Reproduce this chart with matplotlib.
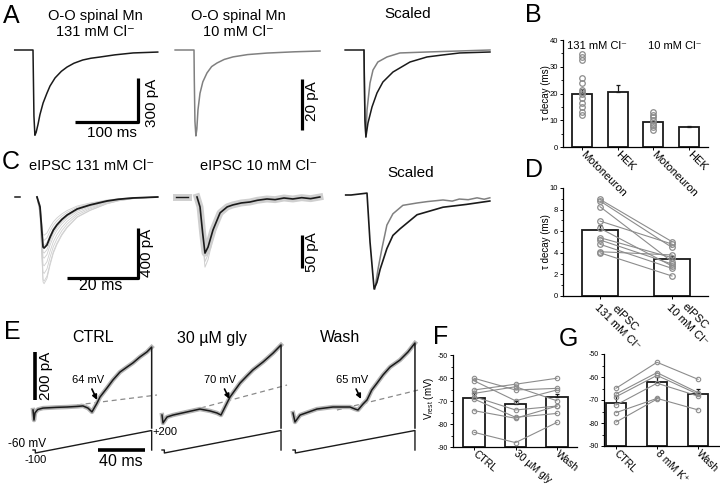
import numpy as np
import matplotlib.pyplot as plt

plt.rcParams['font.family'] = ['Liberation Sans', 'DejaVu Sans']
plt.rcParams['mathtext.fontset'] = 'custom'
plt.rcParams['mathtext.rm'] = 'Liberation Sans'
plt.rcParams['axes.unicode_minus'] = False

# ---------------- data ----------------
# A: averaged currents (ms, pA)
a1_t = [-29, 0, 0.5, 1.5, 3, 5, 8, 11, 16, 22, 27, 35, 45, 54, 65, 79, 92, 106, 130, 159, 198]
a1_i = [0, 0, -150, -450, -580, -560, -505, -440, -361, -295, -245, -190, -145, -116, -90, -68, -56, -48, -33, -20, -14]
a2_t = [-30, 0, 0.5, 1.5, 3, 4.5, 6.3, 9.5, 14, 20.6, 28, 36.5, 48, 62, 85, 116, 160, 200]
a2_i = [0, 0, -12, -28, -33.7, -31, -23.5, -17, -12.5, -9, -6.5, -5.1, -3.7, -2.7, -1.8, -1.2, -0.7, -0.4]
# A scaled (normalised)
a3_t131 = [-30, 0, 0.5, 1.5, 3, 6.3, 12.7, 20.6, 30, 46, 73, 100, 125, 152, 200]
a3_131 = [0, 0, -0.3, -0.8, -1.0, -0.84, -0.655, -0.494, -0.368, -0.253, -0.138, -0.08, -0.057, -0.034, -0.023]
a3_t10 = [0, 0.5, 1.5, 3, 4.8, 9.5, 14.3, 22, 36.5, 57, 100, 152, 200]
a3_10 = [0, -0.3, -0.8, -1.0, -0.69, -0.38, -0.23, -0.138, -0.08, -0.034, -0.023, -0.011, 0.0]

# C: eIPSCs (ms, pA)
c1_t = [0, 0.85, 1.3, 1.7, 2.0, 2.8, 3.7, 4.6, 5.6, 7, 8.5, 11.3, 14.9, 19.7, 23, 27, 34]
c1_i = [0, -80, -250, -400, -408, -384, -320, -265, -224, -180, -144, -96, -64, -32, -18, -8, 0]
c1_sweeps = [0.75, 0.85, 0.95, 1.1, 1.2, 1.35, 1.5, 1.65, 1.7]
c2_t = [0, 0.85, 1.6, 2.25, 3.1, 4.5, 6.5, 8.5, 10.1, 12.5, 14.9, 17, 19.7, 22, 24.5, 27, 29.5, 32, 34.6]
c2_i = [0, -15, -55, -85, -76, -50, -24, -15, -12, -9, -7.6, -5, -3, -4, -1.5, -3, -1, -2.5, 0]
c2_sweeps = [0.85, 0.95, 1.05, 1.15, 1.25]
c3_t131 = [-6, -4.5, 0, 0.85, 2, 2.8, 3.7, 5.6, 7.3, 9.3, 14.1, 21.4, 28, 34.6]
c3_131 = [0, 0, 0.02, -0.5, -1, -0.93, -0.79, -0.57, -0.43, -0.36, -0.21, -0.13, -0.1, -0.064]
c3_t10 = [2.2, 3.1, 4.2, 5.6, 7.3, 10.1, 14.1, 17, 21.4, 24, 26, 28.5, 31, 33, 34.6]
c3_10 = [-1, -0.79, -0.57, -0.32, -0.2, -0.11, -0.085, -0.07, -0.053, -0.065, -0.043, -0.05, -0.03, -0.045, -0.03]

# E: ramp currents (ms, pA) and command voltage (mV)
e_t = [
    [0, 0.85, 1.7, 4, 8.5, 20, 29, 38, 42.5, 46.8, 50.2, 54.5, 57, 63, 68, 74, 80, 85, 91, 97, 101, 101],
    [0, 0.85, 4.3, 9.4, 21.3, 32.3, 40.9, 46.8, 50.2, 55.3, 57.9, 66.4, 72.3, 77.4, 86, 94.5, 101.3, 101.3],
    [0, 1.7, 6, 20.4, 34, 48.5, 52.8, 55.3, 59.6, 63, 67, 71.5, 76.6, 82.6, 91, 97.9, 103.8, 103.8],
]
e_i = [
    [0, -42, -12, 2, 8, 11, 12.5, 15, 17, 8, -8, 29, 54, 92, 125, 158, 179, 196, 221, 242, 262, -75],
    [-21, -54, -29, -21, -8, 4, -4, -12.5, -21, 29, 54, 112, 142, 167, 200, 237, 271, -75],
    [-12.5, -50, -21, 4, 12.5, 12.5, 4, 0, 25, 42, 83, 112, 146, 179, 208, 242, 279, -75],
]
e_ramp_end = [101, 101.3, 103.8]
e_leak_t = [[37.4, 105.5], [4.3, 106.4], [37.4, 106.4]]
e_leak_i = [[21, 62.5], [-29, 104], [0, 83]]
e_rev = ['64 mV', '70 mV', '65 mV']
e_rev_head = [(54.5, 42), (57.4, 46), (57.9, 46)]
e_titles = ['CTRL', '30 µM gly', 'Wash']

# B: decay time constants
b_labels = ['Motoneuron', 'HEK', 'Motoneuron', 'HEK']
b_mean = [20, 20.7, 9.2, 7.5]
b_sem = [1.5, 2.3, 0.7, 0.3]
b_moto131 = [34.7, 33.8, 32.5, 25.9, 23.8, 21.3, 20.7, 19.7, 18.2, 16.3, 15.1, 13.2, 12.0]
b_moto10 = [13.2, 12.0, 11.1, 10.1, 9.1, 8.2, 7.4, 6.4]

# D: eIPSC decay, paired
d_labels = ['eIPSC\n131 mM Cl⁻', 'eIPSC\n10 mM Cl⁻']
d_mean = [6.1, 3.45]
d_sem = [0.45, 0.3]
d_131 = [8.95, 8.8, 8.27, 6.94, 6.27, 5.4, 5.19, 4.79, 4.1, 4.0]
d_10 = [5.03, 4.5, 3.18, 4.81, 2.78, 3.55, 2.96, 2.56, 3.8, 1.85]

# F: Vrest with glycine
f_labels = ['CTRL', '30 µM gly', 'Wash']
f_mean = [-68.6, -71.3, -68.3]
f_sem = [2.0, 1.5, 1.5]
f_cells = [
    [-60.1, -65.2, -64.5],
    [-61.2, -69.9, -65.2],
    [-65.2, -62.7, -60.1],
    [-66.7, -63.8, -69.9],
    [-68.1, -73.9, -72.2],
    [-69.1, -77.1, -75.4],
    [-74.2, -77.5, -72.2],
    [-83.6, -88.1, -79.3],
]

# G: Vrest with 8 mM K+
g_labels = ['CTRL', '8 mM K⁺', 'Wash']
g_mean = [-71.4, -62.3, -67.2]
g_sem = [3.0, 2.2, 2.0]
g_cells = [
    [-64.9, -53.6, -61.0],
    [-67.4, -58.1, -66.8],
    [-68.6, -59.3, -67.5],
    [-72.2, -62.7, -68.3],
    [-75.5, -69.3, -74.3],
    [-79.6, -69.6, np.nan],
]

# ---------------- figure helpers ----------------
W, H = 720, 488
fig = plt.figure(figsize=(7.2, 4.88), dpi=100)
BLACK = '#1a1a1a'
GREY = '#808080'
LIGHT = '#cfcfcf'
PT = '#8c8c8c'


def fx(x):
    return x / W


def fy(y):
    return 1 - y / H


def txt(x, y, s, size=10, rot=0, **kw):
    fig.text(fx(x), fy(y), s, fontsize=size, rotation=rot,
             ha=kw.pop('ha', 'center'), va=kw.pop('va', 'center'), **kw)


def trace_ax(box, x0, sx, y0, sy):
    l, t, r, b = box
    ax = fig.add_axes([fx(l), fy(b), (r - l) / W, (b - t) / H])
    ax.set_xlim((l - x0) / sx, (r - x0) / sx)
    ax.set_ylim((y0 - b) / sy, (y0 - t) / sy)
    ax.axis('off')
    return ax


def bar_ax(box, c0, sp, ylim, ysize=5.5):
    l, t, r, b = box
    ax = fig.add_axes([fx(l), fy(b), (r - l) / W, (b - t) / H])
    ax.set_xlim((l - c0) / sp, (r - c0) / sp)
    ax.set_ylim(*ylim)
    for s in ['top', 'right']:
        ax.spines[s].set_visible(False)
    for s in ['left', 'bottom']:
        ax.spines[s].set_linewidth(0.9)
    ax.tick_params(axis='y', which='major', direction='out', length=2.5, width=0.7,
                   labelsize=ysize, pad=1)
    ax.tick_params(axis='y', which='minor', direction='out', length=1.5, width=0.6)
    ax.tick_params(axis='x', direction='out', length=2, width=0.7, labelsize=8, pad=2)
    ax.patch.set_alpha(0)
    return ax


def bars(ax, means, sems, bottom, width):
    x = np.arange(len(means))
    ax.bar(x, np.array(means) - bottom, bottom=bottom, width=width,
           color='white', edgecolor=BLACK, linewidth=1.3, zorder=2)
    ax.errorbar(x, means, yerr=[np.zeros(len(sems)), sems], fmt='none',
                ecolor=BLACK, elinewidth=0.9, capsize=1.5, capthick=0.9, zorder=3)


def xlabels(ax, labels, rot, size=8):
    ax.set_xticks(range(len(labels)))
    ax.set_xticklabels(labels, rotation=rot, ha='left', va='center', fontsize=size,
                       rotation_mode='anchor', multialignment='center')


# ---------------- panel A ----------------
ax = trace_ax((5, 42, 170, 142), 33, 0.63, 50, 0.147)
ax.plot(a1_t, a1_i, color=BLACK, lw=1.1)
ax.plot([67, 167, 167], [-490, -490, -190], color='k', lw=2.3, solid_capstyle='butt')
txt(152, 103, '300 pA', 11, rot=90)
txt(112, 133, '100 ms', 11)

ax = trace_ax((170, 42, 330, 142), 194, 0.63, 50, 2.55)
ax.plot(a2_t, a2_i, color=GREY, lw=1.1)
ax.plot([171, 171], [-11.4, -31.4], color='k', lw=2.3, solid_capstyle='butt')
txt(312, 101, '20 pA', 11, rot=90)

ax = trace_ax((340, 42, 500, 142), 364, 0.63, 50, 87)
ax.plot(a3_t10, a3_10, color=GREY, lw=1.1)
ax.plot(a3_t131, a3_131, color=BLACK, lw=1.1)

txt(11, 16, 'A', 18)
txt(95, 24, 'O-O spinal Mn\n131 mM Cl⁻', 10.5)
txt(238, 24, 'O-O spinal Mn\n10 mM Cl⁻', 10.5)
txt(408, 14, 'Scaled', 11)

# ---------------- panel C ----------------
ax = trace_ax((5, 185, 170, 300), 37, 3.55, 197, 0.125)
for k in c1_sweeps:
    ax.plot(c1_t, np.array(c1_i) * k, color=LIGHT, lw=0.6)
ax.plot([-6.2, -4.8], [0, 0], color=BLACK, lw=1.1)
ax.plot(c1_t, c1_i, color=BLACK, lw=1.3)
ax.plot([8.5, 28.5, 28.5], [-648, -648, -248], color='k', lw=2.3, solid_capstyle='butt')
txt(147, 253, '400 pA', 11, rot=90)
txt(101, 286, '20 ms', 11.5)

ax = trace_ax((170, 185, 335, 300), 197, 3.55, 197, 0.66)
ax.plot([-5.9, -2.5], [0, 0], color=LIGHT, lw=5)
ax.plot([-5.9, -2.5], [0, 0], color=BLACK, lw=1.0)
ax.plot(c2_t, c2_i, color=LIGHT, lw=5, solid_joinstyle='round')
for k in c2_sweeps:
    ax.plot(c2_t, np.array(c2_i) * k, color=LIGHT, lw=0.7)
ax.plot(c2_t, c2_i, color=BLACK, lw=1.2)
ax.plot([29.6, 29.6], [-57.6, -107.6], color='k', lw=2.3, solid_capstyle='butt')
txt(312, 252, '50 pA', 11, rot=90)

ax = trace_ax((340, 185, 500, 300), 367, 3.55, 195, 94)
ax.plot(c3_t10, c3_10, color=GREY, lw=1.1)
ax.plot(c3_t131, c3_131, color=BLACK, lw=1.2)

txt(11, 162, 'C', 18)
txt(92, 166, 'eIPSC 131 mM Cl⁻', 10.5)
txt(259, 166, 'eIPSC 10 mM Cl⁻', 10.5)
txt(411, 173, 'Scaled', 11)

# ---------------- panel E ----------------
e_x0 = [33, 162, 293]
e_boxes = [(0, 340, 160, 470), (155, 340, 290, 470), (285, 340, 425, 470)]
for n in range(3):
    ax = trace_ax(e_boxes[n], e_x0[n], 1.175, 410, 0.24)
    ax.plot(e_leak_t[n], e_leak_i[n], color='#8a8a8a', lw=0.9, ls=(0, (4, 3)))
    ax.plot(e_t[n][:-1], e_i[n][:-1], color='#b5b5b5', lw=3.2, solid_joinstyle='round')
    ax.plot(e_t[n], e_i[n], color=BLACK, lw=1.1)
    ax.annotate(e_rev[n], xy=e_rev_head[n], xytext=(e_rev_head[n][0] - 8, 125),
                fontsize=8, ha='center', va='center',
                arrowprops=dict(arrowstyle='-|>', color='k', lw=1.2,
                                mutation_scale=7, shrinkA=1, shrinkB=0))
    axv = ax.twinx()
    l, t, r, b = e_boxes[n]
    axv.set_ylim((445.5 - b) / 0.075, (445.5 - t) / 0.075)
    axv.axis('off')
    end = e_ramp_end[n]
    axv.plot([0, 2, 2, end, end], [-60, -60, -100, 200, -60], color=BLACK, lw=1.0)
    if n == 0:
        ax.plot([1.7, 1.7], [41.7, 241], color='k', lw=2.6, solid_capstyle='butt')
        ax.plot([55, 95], [-167, -167], color='k', lw=2.6, solid_capstyle='butt')

txt(12, 332, 'E', 18)
for n, xc in enumerate([93, 212, 340]):
    txt(xc, 338, e_titles[n], 11.5)
txt(46, 376, '200 pA', 11, rot=90)
txt(121, 461, '40 ms', 11.5)
txt(27, 444, '-60 mV', 8.5)
txt(36, 460, '-100', 8)
txt(165, 432, '+200', 8)

# ---------------- panel B ----------------
ax = bar_ax((563, 40, 708, 147), 582, 35.7, (0, 40))
bars(ax, b_mean, b_sem, 0, 0.56)
ax.plot(np.zeros(len(b_moto131)), b_moto131, 'o', ms=4, mfc='none', mec=PT, mew=0.9, zorder=4)
ax.plot(np.full(len(b_moto10), 2), b_moto10, 'o', ms=4, mfc='none', mec=PT, mew=0.9, zorder=4)
ax.set_yticks([0, 10, 20, 30, 40])
ax.set_yticks(np.arange(0, 41, 5), minor=True)
xlabels(ax, b_labels, -45)
txt(533, 15, 'B', 18)
txt(597, 46, '131 mM Cl⁻', 8)
txt(675, 46, '10 mM Cl⁻', 8)
txt(546, 93, 'τ decay (ms)', 7, rot=90)

# ---------------- panel D ----------------
ax = bar_ax((563, 188, 708, 296), 600, 72, (0, 10))
bars(ax, d_mean, d_sem, 0, 0.5)
for a, b in zip(d_131, d_10):
    ax.plot([0, 1], [a, b], '-o', color=PT, lw=0.8, ms=4, mfc='none', mec=PT, mew=0.9, zorder=4)
ax.set_yticks([0, 2, 4, 6, 8, 10])
ax.set_yticks(np.arange(0, 10.1, 1), minor=True)
xlabels(ax, d_labels, -45)
txt(534, 170, 'D', 18)
txt(546, 242, 'τ decay (ms)', 7, rot=90)

# ---------------- panel F ----------------
ax = bar_ax((453, 355, 577, 447), 474, 41.5, (-90, -50), ysize=5)
bars(ax, f_mean, f_sem, -90, 0.52)
for row in f_cells:
    ax.plot([0, 1, 2], row, '-o', color=PT, lw=0.8, ms=3.2, mfc='none', mec=PT, mew=0.8, zorder=4)
ax.set_yticks([-90, -80, -70, -60, -50])
ax.set_yticks(np.arange(-90, -49, 5), minor=True)
xlabels(ax, f_labels, -40, 7.5)
txt(441, 337, 'F', 18)
txt(429, 398, 'V$_{\\mathrm{rest}}$ (mV)', 7, rot=90)

# ---------------- panel G ----------------
ax = bar_ax((604, 354, 719, 446), 616, 41, (-90, -50), ysize=5)
bars(ax, g_mean, g_sem, -90, 0.51)
for row in g_cells:
    ax.plot([0, 1, 2], row, '-o', color=PT, lw=0.8, ms=3.2, mfc='none', mec=PT, mew=0.8, zorder=4)
ax.set_yticks([-90, -80, -70, -60, -50])
ax.set_yticks(np.arange(-90, -49, 5), minor=True)
xlabels(ax, g_labels, -45, 7.5)
txt(568, 339, 'G', 18)

fig.savefig('out.png', dpi=100)
